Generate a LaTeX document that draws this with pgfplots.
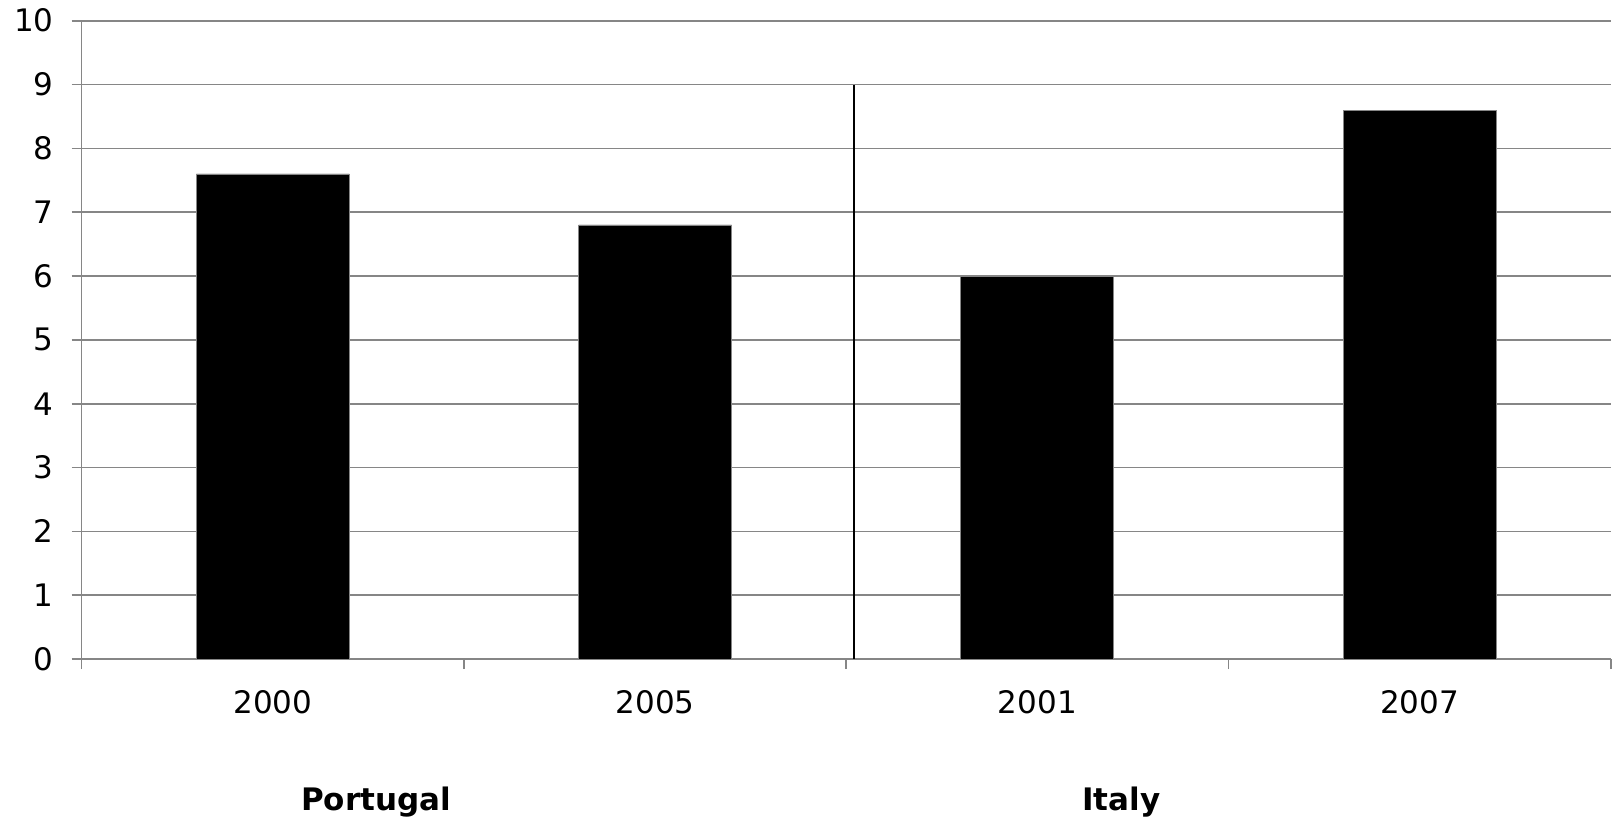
\documentclass[border=0pt]{standalone}
\usepackage{fontspec}
\setmainfont{DejaVu Sans}
\usepackage{pgfplots}
\pgfplotsset{compat=1.18}
\definecolor{gridgray}{HTML}{868686}
\begin{document}
\begin{tikzpicture}
\begin{axis}[
  at={(0pt,0pt)}, anchor=south west,
  scale only axis,
  width=764.5pt, height=319.2pt,
  xmin=-0.5, xmax=3.5,
  ymin=0, ymax=10,
  ytick={0,1,...,10},
  xtick={0,1,2,3},
  xticklabels={2000,2005,2001,2007},
  minor xtick={-0.5,0.5,1.5,2.5,3.5},
  axis lines*=left,
  axis line style={draw=gridgray, line width=0.8pt},
  ymajorgrids,
  major grid style={draw=gridgray, line width=0.8pt},
  tick align=outside,
  major tick length=5pt,
  minor tick length=5pt,
  every major x tick/.style={draw=none},
  every minor x tick/.style={draw=gridgray, line width=0.8pt},
  ytick style={draw=gridgray, line width=0.8pt},
  /pgf/number format/assume math mode=true,
  tick label style={font=\fontsize{15.5}{18}\selectfont, inner sep=0pt},
  xticklabel style={anchor=base, yshift=-22.2pt},
  yticklabel style={anchor=east, xshift=-8.8pt},
  clip=false,
]
\addplot[ybar, bar width=0.4, fill=black, draw=gridgray, line width=0.4pt]
  coordinates {(0,7.6) (1,6.8) (2,6.0) (3,8.6)};
% divider between the two country groups
\addplot[black, line width=0.7pt] coordinates {(1.52,0) (1.52,9)};
\node[anchor=base, font=\fontsize{15.5}{18}\selectfont\bfseries, yshift=-75.5pt]
  at (axis cs:0.27,0) {Portugal};
\node[anchor=base, font=\fontsize{15.5}{18}\selectfont\bfseries, yshift=-75.5pt]
  at (axis cs:2.22,0) {Italy};
\end{axis}
\pgfresetboundingbox
\useasboundingbox (-40.85pt,-80.5pt) rectangle (767.15pt,329.55pt);
\end{tikzpicture}
\end{document}
